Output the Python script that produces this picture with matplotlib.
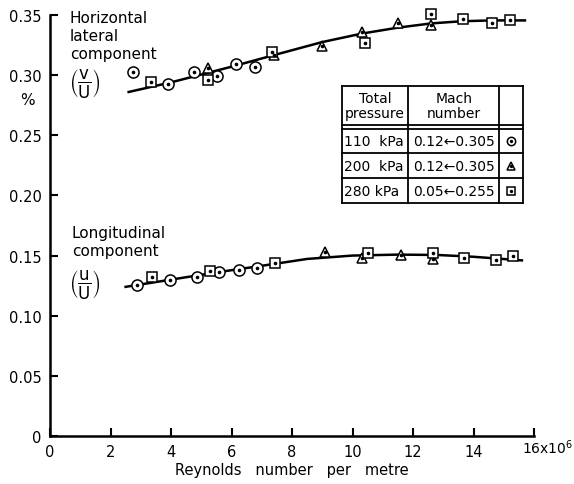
import matplotlib
matplotlib.use("Agg")
import matplotlib.pyplot as plt
from matplotlib.lines import Line2D

plt.rcParams['font.family'] = ['DejaVu Sans']
plt.rcParams['mathtext.fontset'] = 'dejavusans'

# ---------------- data ----------------
# Horizontal lateral component (v/U), %
lat_circle_x = [2.75, 3.9, 4.77, 5.52, 6.16, 6.79]
lat_circle_y = [0.303, 0.293, 0.303, 0.299, 0.309, 0.307]
lat_tri_x = [5.23, 7.39, 9.0, 10.33, 11.49, 12.6]
lat_tri_y = [0.306, 0.317, 0.324, 0.336, 0.343, 0.342]
lat_sq_x = [3.34, 5.23, 7.35, 10.4, 12.6, 13.64, 14.6, 15.2]
lat_sq_y = [0.294, 0.296, 0.319, 0.327, 0.351, 0.347, 0.343, 0.346]
lat_fit_x = [2.6, 4.0, 6.0, 7.6, 9.0, 10.3, 11.5, 12.6, 13.6, 14.6, 15.7]
lat_fit_y = [0.286, 0.294, 0.307, 0.318, 0.3275, 0.3345, 0.3395, 0.343, 0.3448, 0.3455, 0.3455]

# Longitudinal component (u/U), %
lon_circle_x = [2.87, 3.97, 4.86, 5.58, 6.24, 6.84]
lon_circle_y = [0.1254, 0.1296, 0.132, 0.136, 0.138, 0.1395]
lon_tri_x = [9.08, 10.3, 11.6, 12.65]
lon_tri_y = [0.1528, 0.1478, 0.1503, 0.147]
lon_sq_x = [3.37, 5.28, 7.45, 10.5, 12.65, 13.68, 14.73, 15.3]
lon_sq_y = [0.132, 0.137, 0.1437, 0.152, 0.152, 0.1478, 0.146, 0.1495]
lon_fit_x = [2.5, 4.0, 5.5, 7.0, 8.5, 10.0, 11.5, 12.8, 14.0, 15.6]
lon_fit_y = [0.124, 0.130, 0.136, 0.1415, 0.1472, 0.1500, 0.1508, 0.1505, 0.1490, 0.1460]

x_ticks = [0, 2, 4, 6, 8, 10, 12, 14, 16]
x_ticklabels = ["0", "2", "4", "6", "8", "10", "12", "14", ""]
y_ticks = [0, 0.05, 0.10, 0.15, 0.20, 0.25, 0.30, 0.35]
y_ticklabels = ["0", "0.05", "0.10", "0.15", "0.20", "0.25", "0.30", "0.35"]

table_header = ["Total\npressure", "Mach\nnumber", ""]
table_pressure = ["110  kPa", "200  kPa", "280 kPa"]
table_mach = ["0.12\u21900.305", "0.12\u21900.305", "0.05\u21900.255"]
table_markers = ["o", "^", "s"]

# ---------------- figure ----------------
fig = plt.figure(figsize=(5.74, 4.85), dpi=100)
ax = fig.add_axes([50 / 574, 48 / 485, 484 / 574, 421 / 485])

ax.plot(lat_fit_x, lat_fit_y, color="black", lw=1.8, zorder=2)
ax.plot(lon_fit_x, lon_fit_y, color="black", lw=1.8, zorder=2)

def scatter(xs, ys, m, ms):
    ax.plot(xs, ys, linestyle="none", marker=m, ms=ms, mfc="white",
            mec="black", mew=1.1, zorder=3, clip_on=False)
    ax.plot(xs, ys, linestyle="none", marker="o", ms=1.6, mfc="black",
            mec="black", zorder=4, clip_on=False)

for xs, ys, m, ms in [(lat_circle_x, lat_circle_y, "o", 8),
                      (lat_tri_x, lat_tri_y, "^", 7.5),
                      (lat_sq_x, lat_sq_y, "s", 6.5),
                      (lon_circle_x, lon_circle_y, "o", 8),
                      (lon_tri_x, lon_tri_y, "^", 7.5),
                      (lon_sq_x, lon_sq_y, "s", 6.5)]:
    scatter(xs, ys, m, ms)

ax.set_xlim(0, 16)
ax.set_ylim(0, 0.35)
ax.set_xticks(x_ticks)
ax.set_xticklabels(x_ticklabels)
ax.set_yticks(y_ticks)
ax.set_yticklabels(y_ticklabels)
ax.tick_params(direction="in", length=6, width=1.5, labelsize=10.5, pad=6)
for s in ["top", "right"]:
    ax.spines[s].set_visible(False)
for s in ["left", "bottom"]:
    ax.spines[s].set_linewidth(1.8)

ax.set_xlabel("Reynolds   number   per   metre", fontsize=10.5, labelpad=2)
ax.text(1.0 - 12 / 484, -0.040, r"16x10$^6$", transform=ax.transAxes,
        fontsize=10, ha="left", va="baseline")
ax.text(-0.047, 0.80, "%", transform=ax.transAxes, fontsize=11,
        ha="center", va="center")

ax.text(0.041, 1.012, "Horizontal\nlateral\ncomponent", transform=ax.transAxes,
        fontsize=11, ha="left", va="top", linespacing=1.25)
ax.text(0.040, 0.840, r"$\left(\dfrac{\mathregular{v}}{\mathregular{U}}\right)$",
        transform=ax.transAxes, fontsize=12, ha="left", va="center")
ax.text(0.045, 0.502, "Longitudinal\ncomponent", transform=ax.transAxes,
        fontsize=11, ha="left", va="top", linespacing=1.25)
ax.text(0.040, 0.362, r"$\left(\dfrac{\mathregular{u}}{\mathregular{U}}\right)$",
        transform=ax.transAxes, fontsize=12, ha="left", va="center")

# ---------------- table (legend) ----------------
tl, tr = 0.603, 0.977
c1, c2 = 0.740, 0.928
ttop, tbot = 0.831, 0.553
hsep1, hsep2 = 0.739, 0.729
r1, r2 = 0.672, 0.613
lw = 1.3
kw = dict(color="black", lw=lw, transform=ax.transAxes, clip_on=False)
for yy in [ttop, tbot, hsep1, hsep2, r1, r2]:
    ax.add_line(Line2D([tl, tr], [yy, yy], **kw))
for xx in [tl, c1, c2, tr]:
    ax.add_line(Line2D([xx, xx], [tbot, ttop], **kw))

hy = (ttop + hsep1) / 2
ax.text((tl + c1) / 2, hy, table_header[0], transform=ax.transAxes,
        fontsize=10, ha="center", va="center", linespacing=1.1)
ax.text((c1 + c2) / 2, hy, table_header[1], transform=ax.transAxes,
        fontsize=10, ha="center", va="center", linespacing=1.1)
row_y = [(hsep2 + r1) / 2, (r1 + r2) / 2, (r2 + tbot) / 2]
for yy, p, mch, mk in zip(row_y, table_pressure, table_mach, table_markers):
    ax.text(tl + 0.005, yy, p, transform=ax.transAxes, fontsize=10,
            ha="left", va="center")
    ax.text((c1 + c2) / 2, yy, mch, transform=ax.transAxes, fontsize=10,
            ha="center", va="center")
    ax.plot([(c2 + tr) / 2], [yy], transform=ax.transAxes, marker=mk,
            ms=6, mfc="white", mec="black", mew=1.1, clip_on=False, zorder=5)
    ax.plot([(c2 + tr) / 2], [yy], transform=ax.transAxes, marker="o",
            ms=1.4, mfc="black", mec="black", clip_on=False, zorder=6)

fig.savefig("out.png", dpi=100)
